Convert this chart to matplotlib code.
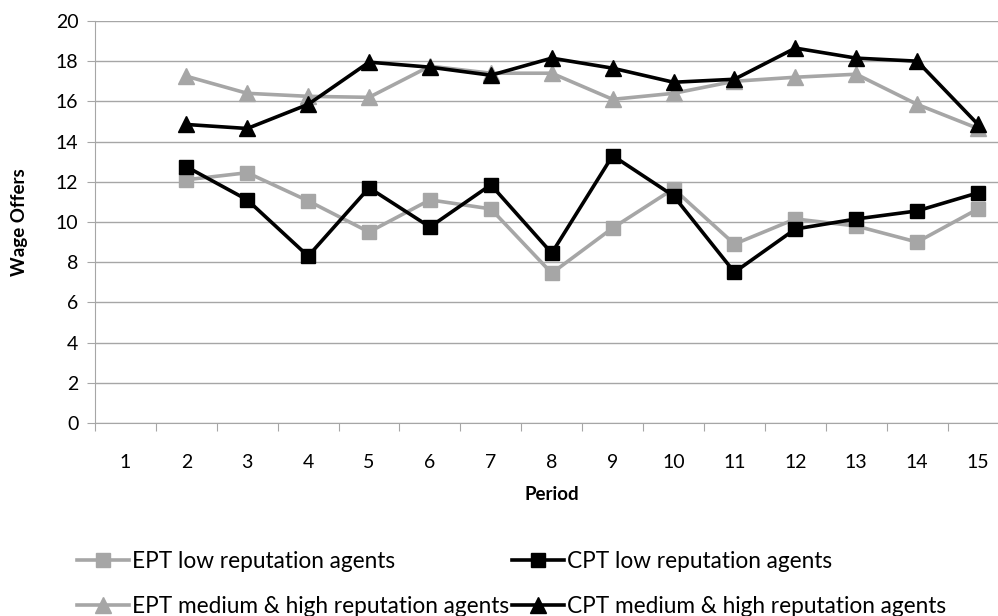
import numpy as np
import matplotlib
matplotlib.use("Agg")
import matplotlib.pyplot as plt

plt.rcParams['font.family'] = ['Lato', 'DejaVu Sans']

periods = list(range(1, 16))
data_periods = list(range(2, 16))

ept_low = [12.1, 12.45, 11.05, 9.5, 11.1, 10.65, 7.45, 9.7, 11.65, 8.9, 10.15, 9.8, 9.0, 10.65]
cpt_low = [12.75, 11.1, 8.3, 11.7, 9.75, 11.85, 8.45, 13.3, 11.3, 7.5, 9.65, 10.15, 10.55, 11.45]
ept_high = [17.25, 16.4, 16.25, 16.2, 17.75, 17.4, 17.4, 16.1, 16.4, 17.0, 17.2, 17.35, 15.85, 14.65]
cpt_high = [14.85, 14.65, 15.85, 17.95, 17.7, 17.3, 18.15, 17.65, 16.95, 17.1, 18.65, 18.15, 18.0, 14.85]

grey = '#a6a6a6'
gridc = '#a6a6a6'

fig = plt.figure(figsize=(9.98, 6.16), dpi=100)
ax = fig.add_axes([0.0952, 0.3133, 0.9153, 0.6527])

ax.plot(data_periods, ept_low, color=grey, lw=2.6, marker='s', ms=10, label='EPT low reputation agents')
ax.plot(data_periods, ept_high, color=grey, lw=2.6, marker='^', ms=11, label='EPT medium & high reputation agents')
ax.plot(data_periods, cpt_low, color='black', lw=2.6, marker='s', ms=10, label='CPT low reputation agents')
ax.plot(data_periods, cpt_high, color='black', lw=2.6, marker='^', ms=11, label='CPT medium & high reputation agents')

ax.set_xlim(0.5, 15.5)
ax.set_ylim(0, 20)
ax.set_yticks(np.arange(0, 21, 2))
ax.set_xticks(np.arange(0.5, 15.6, 1))
ax.set_xticklabels([])
ax.set_xticks(periods, minor=True)
ax.set_xticklabels([str(p) for p in periods], minor=True)
ax.tick_params(axis='x', which='major', length=6, color=gridc, direction='out')
ax.tick_params(axis='x', which='minor', length=0, pad=22, labelsize=14)
ax.tick_params(axis='y', length=6, color=gridc, labelsize=14, pad=6)

ax.yaxis.grid(True, color=gridc, lw=1)
ax.set_axisbelow(True)
for s in ['top', 'right']:
    ax.spines[s].set_visible(False)
ax.spines['left'].set_color(gridc)
ax.spines['bottom'].set_color(gridc)

ax.set_xlabel('Period', fontsize=13.5, fontweight='bold', labelpad=11)
ax.set_ylabel('Wage Offers', fontsize=13.5, fontweight='bold', labelpad=20)

handles, labels = ax.get_legend_handles_labels()
fig.legend(handles, labels, loc='center', bbox_to_anchor=(0.5125, 0.052), ncol=2,
           frameon=False, fontsize=16.3, handlelength=2.3, columnspacing=0.15,
           handletextpad=0.1, labelspacing=1.05)

fig.savefig('out.png', dpi=100)
